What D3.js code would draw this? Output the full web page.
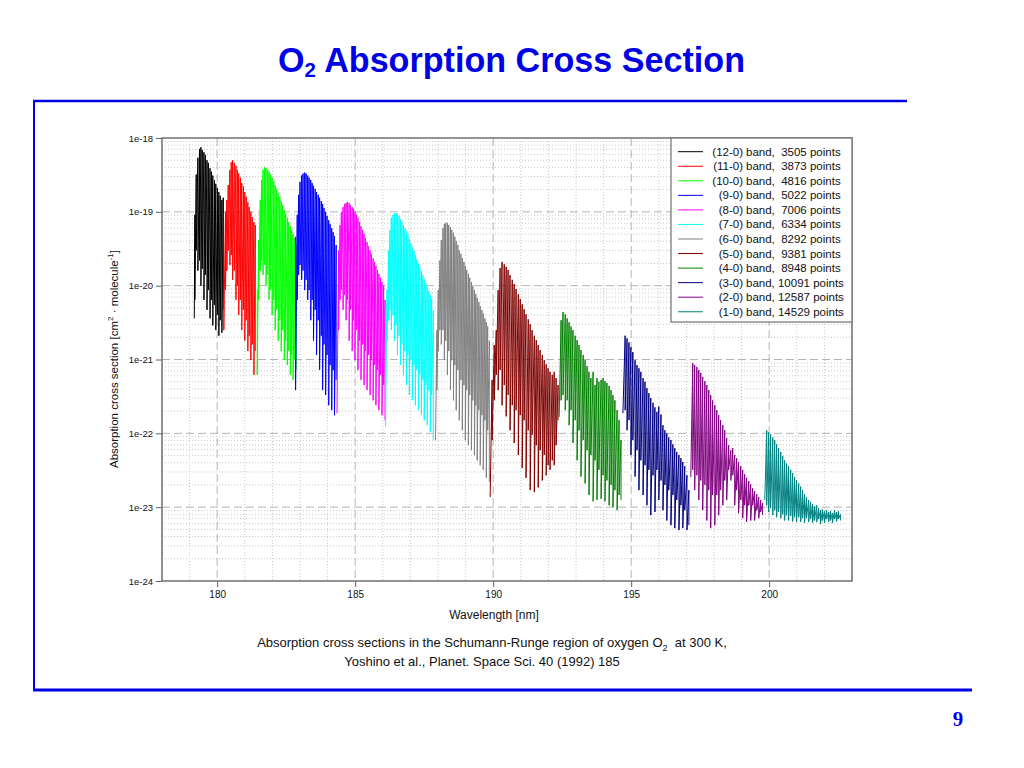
<!DOCTYPE html>
<html>
<head>
<meta charset="utf-8">
<script src="https://cdn.jsdelivr.net/npm/d3@7"></script>
<style>
  body { margin: 0; background: #fff; }
  svg { display: block; font-family: "Liberation Sans", Arial, sans-serif; }
</style>
</head>
<body>
<svg id="slide" width="1024" height="768"></svg>
<script>

// Bands, legend and ticks
const bandLabels = ["(12-0)", "(11-0)", "(10-0)", "(9-0)", "(8-0)", "(7-0)", "(6-0)", "(5-0)", "(4-0)", "(3-0)", "(2-0)", "(1-0)"];
const bandPoints = ["3505", "3873", "4816", "5022", "7006", "6334", "8292", "9381", "8948", "10091", "12587", "14529"];
const xTicks = [180, 185, 190, 195, 200];
const yTicks = [1e-24, 1e-23, 1e-22, 1e-21, 1e-20, 1e-19, 1e-18];

// Each band: line wavelengths (nm), peak and following dip of the cross section (cm2)
const b12w = [179.17, 179.19, 179.24, 179.30, 179.36, 179.41, 179.46, 179.52, 179.57, 179.63, 179.68, 179.74, 179.79, 179.84, 179.90, 179.95, 180.01, 180.06, 180.11, 180.17, 180.22];
const b12hi = [3.6e-21, 9.1e-20, 3.2e-19, 5.4e-19, 7.1e-19, 7.5e-19, 6.9e-19, 6.4e-19, 5.9e-19, 5.0e-19, 4.6e-19, 3.9e-19, 3.5e-19, 3.1e-19, 2.7e-19, 2.4e-19, 2.1e-19, 1.85e-19, 1.65e-19, 1.45e-19, 1.55e-19];
const b12lo = [3.6e-21, 6.4e-21, 3.0e-20, 1.6e-20, 2.2e-20, 1.0e-20, 1.7e-20, 6.4e-21, 1.4e-20, 4.7e-21, 8.7e-21, 3.6e-21, 6.4e-21, 2.9e-21, 5.5e-21, 2.5e-21, 4.0e-21, 2.1e-21, 3.4e-21, 2.3e-21, 4.7e-21];

const b11w = [180.24, 180.30, 180.35, 180.40, 180.46, 180.51, 180.56, 180.62, 180.68, 180.73, 180.78, 180.84, 180.89, 180.95, 181.00, 181.05, 181.11, 181.16, 181.22, 181.27, 181.33, 181.38];
const b11hi = [6.4e-21, 1.0e-19, 1.45e-19, 2.3e-19, 3.7e-19, 4.7e-19, 5.0e-19, 4.6e-19, 4.2e-19, 3.7e-19, 3.3e-19, 2.9e-19, 2.45e-19, 2.2e-19, 1.85e-19, 1.6e-19, 1.35e-19, 1.16e-19, 1.0e-19, 8.5e-20, 7.3e-20, 6.6e-20];
const b11lo = [2.5e-21, 8.7e-21, 1.6e-20, 3.0e-20, 1.9e-20, 2.6e-20, 1.2e-20, 1.6e-20, 6.4e-21, 1.0e-20, 4.0e-21, 6.4e-21, 2.5e-21, 4.7e-21, 1.8e-21, 3.4e-21, 1.3e-21, 2.1e-21, 9.8e-22, 1.6e-21, 6.2e-22, 1.3e-21];

const b10w = [181.45, 181.50, 181.56, 181.61, 181.66, 181.72, 181.77, 181.83, 181.88, 181.93, 181.99, 182.05, 182.10, 182.15, 182.21, 182.27, 182.32, 182.37, 182.43, 182.48, 182.54, 182.59, 182.65, 182.70, 182.75, 182.81, 182.86];
const b10hi = [8.7e-21, 4.15e-20, 1.45e-19, 2.7e-19, 3.7e-19, 4.05e-19, 3.9e-19, 3.7e-19, 3.5e-19, 3.2e-19, 2.9e-19, 2.6e-19, 2.3e-19, 2.05e-19, 1.8e-19, 1.6e-19, 1.4e-19, 1.24e-19, 1.06e-19, 9.4e-20, 8.3e-20, 7.3e-20, 6.4e-20, 5.7e-20, 5.0e-20, 4.4e-20, 3.55e-20];
const b10lo = [6.2e-22, 6.4e-21, 1.6e-20, 2.2e-20, 1.4e-20, 1.9e-20, 1.0e-20, 1.4e-20, 6.4e-21, 8.7e-21, 4.0e-21, 6.4e-21, 2.5e-21, 4.7e-21, 1.8e-21, 3.4e-21, 1.3e-21, 2.5e-21, 9.8e-22, 1.8e-21, 8.4e-22, 1.3e-21, 6.2e-22, 1.15e-21, 5.3e-22, 9.8e-22, 7.2e-22];

const b9w = [182.84, 182.90, 182.95, 183.00, 183.06, 183.11, 183.17, 183.22, 183.28, 183.33, 183.39, 183.44, 183.49, 183.55, 183.60, 183.66, 183.71, 183.77, 183.82, 183.87, 183.93, 183.98, 184.04, 184.09, 184.15, 184.20, 184.25, 184.31];
const b9hi = [4.6e-20, 9.1e-20, 1.7e-19, 2.55e-19, 3.1e-19, 3.3e-19, 3.4e-19, 3.3e-19, 3.1e-19, 2.9e-19, 2.7e-19, 2.45e-19, 2.25e-19, 2.05e-19, 1.85e-19, 1.7e-19, 1.55e-19, 1.4e-19, 1.28e-19, 1.13e-19, 1.0e-19, 8.8e-20, 7.7e-20, 6.8e-20, 6.0e-20, 5.3e-20, 4.7e-20, 3.55e-20];
const b9lo = [3.85e-22, 6.4e-21, 1.4e-20, 1.9e-20, 1.2e-20, 1.6e-20, 8.7e-21, 1.2e-20, 6.4e-21, 8.7e-21, 3.4e-21, 6.4e-21, 1.8e-21, 4.7e-21, 1.15e-21, 3.4e-21, 7.2e-22, 2.1e-21, 3.85e-22, 1.6e-21, 3.3e-22, 1.15e-21, 2.4e-22, 8.4e-22, 2.06e-22, 7.2e-22, 1.76e-22, 5.3e-22];

const b8w = [184.34, 184.40, 184.45, 184.50, 184.56, 184.62, 184.67, 184.72, 184.78, 184.83, 184.89, 184.94, 184.99, 185.05, 185.10, 185.16, 185.21, 185.27, 185.32, 185.37, 185.43, 185.48, 185.54, 185.59, 185.65, 185.70, 185.75, 185.81, 185.86, 185.92, 185.97, 186.03, 186.08];
const b8hi = [1.87e-22, 3.0e-20, 6.6e-20, 1.0e-19, 1.16e-19, 1.28e-19, 1.32e-19, 1.36e-19, 1.32e-19, 1.24e-19, 1.16e-19, 1.1e-19, 1.0e-19, 9.1e-20, 8.3e-20, 7.3e-20, 6.4e-20, 5.7e-20, 5.0e-20, 4.4e-20, 3.9e-20, 3.4e-20, 3.0e-20, 2.7e-20, 2.35e-20, 2.1e-20, 1.85e-20, 1.63e-20, 1.45e-20, 1.28e-20, 1.12e-20, 1.0e-20, 6.4e-21];
const b8lo = [1.87e-22, 2.5e-21, 6.4e-21, 8.7e-21, 4.7e-21, 7.5e-21, 3.4e-21, 6.4e-21, 1.8e-21, 4.7e-21, 1.3e-21, 3.4e-21, 9.8e-22, 2.5e-21, 7.2e-22, 1.8e-21, 5.3e-22, 1.6e-21, 4.5e-22, 1.3e-21, 3.85e-22, 1.15e-21, 3.3e-22, 9.8e-22, 2.8e-22, 8.4e-22, 2.4e-22, 7.2e-22, 2.06e-22, 6.2e-22, 1.76e-22, 4.5e-22, 1.5e-22];

const b7w = [186.10, 186.15, 186.21, 186.26, 186.31, 186.37, 186.42, 186.48, 186.53, 186.59, 186.64, 186.69, 186.75, 186.80, 186.86, 186.91, 186.96, 187.02, 187.07, 187.13, 187.18, 187.23, 187.29, 187.34, 187.40, 187.45, 187.50, 187.56, 187.61, 187.67, 187.72, 187.77, 187.83];
const b7hi = [1.24e-22, 8.7e-21, 3.0e-20, 5.7e-20, 8.3e-20, 9.1e-20, 9.6e-20, 9.6e-20, 9.4e-20, 8.8e-20, 8.0e-20, 7.3e-20, 6.6e-20, 6.0e-20, 5.5e-20, 4.9e-20, 4.3e-20, 3.8e-20, 3.3e-20, 2.95e-20, 2.6e-20, 2.3e-20, 2.0e-20, 1.8e-20, 1.6e-20, 1.39e-20, 1.23e-20, 1.08e-20, 9.6e-21, 8.5e-21, 7.5e-21, 6.6e-21, 4.7e-21];
const b7lo = [1.24e-22, 1.8e-21, 3.4e-21, 4.7e-21, 2.5e-21, 4.0e-21, 1.8e-21, 2.9e-21, 1.15e-21, 2.1e-21, 8.4e-22, 1.6e-21, 6.2e-22, 1.3e-21, 4.5e-22, 1.15e-21, 3.3e-22, 9.8e-22, 2.8e-22, 8.4e-22, 2.4e-22, 7.2e-22, 2.06e-22, 6.2e-22, 1.76e-22, 5.3e-22, 1.5e-22, 4.5e-22, 1.29e-22, 3.85e-22, 1.05e-22, 3.3e-22, 8.1e-23];

const b6w = [187.91, 187.96, 188.01, 188.07, 188.12, 188.18, 188.23, 188.28, 188.34, 188.39, 188.45, 188.50, 188.56, 188.61, 188.66, 188.72, 188.77, 188.83, 188.88, 188.94, 188.99, 189.04, 189.10, 189.15, 189.21, 189.26, 189.32, 189.37, 189.42, 189.48, 189.53, 189.59, 189.64, 189.70, 189.75, 189.80, 189.86];
const b6hi = [8.1e-23, 2.5e-21, 8.7e-21, 2.2e-20, 4.15e-20, 6.0e-20, 6.8e-20, 7.1e-20, 7.1e-20, 6.6e-20, 6.2e-20, 5.7e-20, 5.2e-20, 4.6e-20, 4.0e-20, 3.55e-20, 3.0e-20, 2.7e-20, 2.35e-20, 2.1e-20, 1.85e-20, 1.63e-20, 1.45e-20, 1.28e-20, 1.12e-20, 1.0e-20, 8.7e-21, 7.7e-21, 6.8e-21, 6.0e-21, 5.3e-21, 4.7e-21, 4.2e-21, 3.6e-21, 3.2e-21, 2.8e-21, 1.8e-21];
const b6lo = [8.1e-23, 3.85e-22, 1.3e-21, 2.5e-21, 1.6e-21, 2.5e-21, 9.8e-22, 1.8e-21, 6.2e-22, 1.3e-21, 3.85e-22, 9.8e-22, 2.8e-22, 8.4e-22, 2.06e-22, 7.2e-22, 1.5e-22, 5.3e-22, 1.1e-22, 4.5e-22, 8.1e-23, 3.85e-22, 6.9e-23, 3.3e-22, 5.9e-23, 2.8e-22, 5.1e-23, 2.4e-22, 4.3e-23, 2.06e-22, 3.7e-23, 1.76e-22, 3.2e-23, 1.5e-22, 2.5e-23, 1.1e-22, 2.2e-23];

const b5w = [189.89, 189.96, 190.04, 190.11, 190.18, 190.25, 190.32, 190.40, 190.47, 190.54, 190.61, 190.69, 190.76, 190.83, 190.91, 190.98, 191.05, 191.12, 191.19, 191.27, 191.34, 191.41, 191.49, 191.56, 191.63, 191.70, 191.78, 191.85, 191.92, 191.99, 192.06, 192.14, 192.21, 192.28, 192.35];
const b5hi = [1.37e-23, 5.3e-22, 1.57e-21, 2.5e-21, 8.7e-21, 1.73e-20, 2.1e-20, 1.95e-20, 1.8e-20, 1.63e-20, 1.39e-20, 1.2e-20, 1.05e-20, 9.0e-21, 7.7e-21, 6.6e-21, 5.6e-21, 4.8e-21, 4.1e-21, 3.5e-21, 3.0e-21, 2.5e-21, 2.1e-21, 1.83e-21, 1.57e-21, 1.34e-21, 1.15e-21, 9.8e-22, 8.6e-22, 7.6e-22, 6.8e-22, 6.2e-22, 6.8e-22, 5.6e-22, 4.5e-22];
const b5lo = [1.37e-23, 8.1e-23, 2.8e-22, 6.2e-22, 3.85e-22, 7.2e-22, 2.4e-22, 4.5e-22, 1.7e-22, 3.3e-22, 1.1e-22, 2.4e-22, 7.4e-23, 2.06e-22, 5.1e-23, 1.76e-22, 3.4e-23, 1.5e-22, 2.5e-23, 1.1e-22, 1.7e-23, 9.5e-23, 1.6e-23, 6.9e-23, 1.85e-23, 5.9e-23, 2.3e-23, 5.1e-23, 2.7e-23, 3.7e-23, 3.2e-23, 4.3e-23, 3.7e-23, 6.9e-23, 1.5e-22];

const b4w = [192.39, 192.46, 192.53, 192.61, 192.68, 192.75, 192.82, 192.89, 192.97, 193.04, 193.11, 193.18, 193.26, 193.33, 193.40, 193.47, 193.54, 193.62, 193.69, 193.76, 193.83, 193.91, 193.98, 194.05, 194.12, 194.20, 194.27, 194.34, 194.41, 194.49, 194.56, 194.63];
const b4hi = [1.67e-22, 3.4e-21, 4.4e-21, 4.1e-21, 3.6e-21, 3.2e-21, 2.8e-21, 2.5e-21, 2.1e-21, 1.83e-21, 1.57e-21, 1.34e-21, 1.15e-21, 9.8e-22, 8.1e-22, 6.8e-22, 5.6e-22, 6.8e-22, 4.5e-22, 5.6e-22, 5.0e-22, 5.3e-22, 5.6e-22, 5.1e-22, 4.8e-22, 4.4e-22, 3.85e-22, 3.3e-22, 2.8e-22, 2.06e-22, 1.51e-22, 8.1e-23];
const b4lo = [1.67e-22, 2.8e-22, 3.3e-22, 2.06e-22, 2.8e-22, 1.29e-22, 2.06e-22, 7.4e-23, 1.51e-22, 4.3e-23, 1.1e-22, 2.6e-23, 8.1e-23, 2.1e-23, 5.9e-23, 1.46e-23, 5.1e-23, 1.2e-23, 4.3e-23, 1.25e-23, 3.2e-23, 1.3e-23, 2.7e-23, 1.2e-23, 2.3e-23, 1.06e-23, 2.0e-23, 1.0e-23, 1.7e-23, 9.1e-24, 1.46e-23, 1.25e-23];

const b3w = [194.70, 194.78, 194.85, 194.92, 194.99, 195.06, 195.14, 195.21, 195.28, 195.35, 195.43, 195.50, 195.57, 195.64, 195.71, 195.79, 195.86, 195.93, 196.00, 196.08, 196.15, 196.22, 196.29, 196.36, 196.44, 196.51, 196.58, 196.65, 196.73, 196.80, 196.87, 196.94, 197.02, 197.09];
const b3hi = [1.87e-22, 2.1e-21, 1.93e-21, 1.7e-21, 1.47e-21, 1.26e-21, 9.8e-22, 8.4e-22, 7.6e-22, 6.8e-22, 5.6e-22, 5.0e-22, 4.1e-22, 3.5e-22, 3.0e-22, 2.6e-22, 2.25e-22, 1.95e-22, 2.3e-22, 1.8e-22, 1.29e-22, 1.1e-22, 1.0e-22, 8.8e-23, 8.1e-23, 7.1e-23, 6.3e-23, 5.6e-23, 5.1e-23, 4.6e-23, 4.1e-23, 3.6e-23, 2.7e-23, 1.7e-23];
const b3lo = [1.87e-22, 2.06e-22, 1.1e-22, 1.51e-22, 5.1e-23, 8.1e-23, 2.6e-23, 5.9e-23, 1.7e-23, 4.3e-23, 1.46e-23, 3.7e-23, 1.06e-23, 3.2e-23, 7.8e-24, 2.7e-23, 8.6e-24, 3.2e-23, 1.25e-23, 2.3e-23, 9.1e-24, 2.0e-23, 6.6e-24, 1.7e-23, 5.7e-24, 1.46e-23, 5.2e-24, 1.25e-23, 4.9e-24, 1.06e-23, 5.2e-24, 9.1e-24, 4.9e-24, 5.7e-24];

const b2w = [197.16, 197.23, 197.30, 197.38, 197.45, 197.52, 197.59, 197.67, 197.74, 197.81, 197.88, 197.95, 198.03, 198.10, 198.17, 198.24, 198.32, 198.39, 198.46, 198.53, 198.61, 198.68, 198.75, 198.82, 198.89, 198.97, 199.04, 199.11, 199.18, 199.26, 199.33, 199.40, 199.47, 199.55, 199.62, 199.69, 199.76];
const b2hi = [2.55e-23, 8.9e-22, 8.4e-22, 7.9e-22, 7.2e-22, 6.6e-22, 5.8e-22, 5.1e-22, 4.5e-22, 3.85e-22, 3.3e-22, 2.8e-22, 2.4e-22, 2.06e-22, 1.76e-22, 1.51e-22, 1.29e-22, 1.1e-22, 8.6e-23, 6.9e-23, 5.9e-23, 6.3e-23, 5.1e-23, 4.6e-23, 4.1e-23, 3.6e-23, 3.2e-23, 2.8e-23, 2.5e-23, 2.25e-23, 2.05e-23, 1.8e-23, 1.65e-23, 1.5e-23, 1.37e-23, 1.25e-23, 1.14e-23];
const b2lo = [2.55e-23, 3.2e-23, 1.7e-23, 2.7e-23, 1.25e-23, 2.3e-23, 9.1e-24, 2.0e-23, 6.6e-24, 1.7e-23, 5.2e-24, 1.46e-23, 5.7e-24, 1.46e-23, 7.8e-24, 1.7e-23, 1.06e-23, 2.3e-23, 1.25e-23, 3.2e-23, 2.3e-23, 2.7e-23, 1.06e-23, 1.7e-23, 8.3e-24, 1.25e-23, 7.1e-24, 1.06e-23, 6.3e-24, 1.06e-23, 6.6e-24, 1.06e-23, 6.6e-24, 9.1e-24, 7.1e-24, 8.6e-24, 7.8e-24];

const b1w = [199.84, 199.91, 199.98, 200.05, 200.13, 200.20, 200.27, 200.34, 200.42, 200.49, 200.56, 200.63, 200.70, 200.78, 200.85, 200.92, 200.99, 201.07, 201.14, 201.21, 201.28, 201.35, 201.43, 201.50, 201.57, 201.64, 201.72, 201.79, 201.86, 201.93, 202.00, 202.08, 202.15, 202.22, 202.29, 202.37, 202.44, 202.51, 202.58];
const b1hi = [1.25e-23, 1.1e-22, 1.03e-22, 9.7e-23, 8.8e-23, 8.1e-23, 7.1e-23, 6.3e-23, 5.6e-23, 4.9e-23, 4.3e-23, 3.9e-23, 3.6e-23, 3.2e-23, 2.9e-23, 2.55e-23, 2.3e-23, 2.1e-23, 1.9e-23, 1.7e-23, 1.5e-23, 1.37e-23, 1.25e-23, 1.18e-23, 1.1e-23, 1.03e-23, 1.06e-23, 9.7e-24, 9.1e-24, 9.4e-24, 8.8e-24, 9.1e-24, 8.6e-24, 8.8e-24, 8.3e-24, 9.1e-24, 8.6e-24, 8.8e-24, 8.0e-24];
const b1lo = [1.25e-23, 1.06e-23, 8.6e-24, 9.7e-24, 7.8e-24, 9.1e-24, 7.3e-24, 8.6e-24, 7.1e-24, 8.0e-24, 6.6e-24, 7.8e-24, 6.6e-24, 7.6e-24, 6.4e-24, 7.3e-24, 6.3e-24, 7.3e-24, 6.3e-24, 7.1e-24, 6.1e-24, 7.1e-24, 6.3e-24, 6.9e-24, 6.1e-24, 6.6e-24, 6.3e-24, 6.9e-24, 5.9e-24, 6.6e-24, 6.1e-24, 6.9e-24, 6.3e-24, 6.6e-24, 6.1e-24, 6.9e-24, 6.4e-24, 6.9e-24, 6.6e-24];

const bandWl = [b12w, b11w, b10w, b9w, b8w, b7w, b6w, b5w, b4w, b3w, b2w, b1w];
const bandHi = [b12hi, b11hi, b10hi, b9hi, b8hi, b7hi, b6hi, b5hi, b4hi, b3hi, b2hi, b1hi];
const bandLo = [b12lo, b11lo, b10lo, b9lo, b8lo, b7lo, b6lo, b5lo, b4lo, b3lo, b2lo, b1lo];

const bandColors = ["#000000", "#ff0000", "#00ff00", "#0000ff", "#ff00ff", "#00ffff",
  "#808080", "#800000", "#008000", "#000080", "#800080", "#008080"];
const slideBlue = "#0000e6";

const plot = { left: 162, right: 852, top: 138, bottom: 581 };

const svg = d3.select("#slide");

const xScale = d3.scaleLinear()
  .domain([178, 203])
  .range([plot.left, plot.right]);

const yScale = d3.scaleLog()
  .domain([1e-24, 1e-18])
  .range([plot.bottom, plot.top]);

// Slide frame
svg.append("line")
  .attr("x1", 33).attr("x2", 907)
  .attr("y1", 101).attr("y2", 101)
  .attr("stroke", slideBlue)
  .attr("stroke-width", 2.5);
svg.append("line")
  .attr("x1", 34).attr("x2", 34)
  .attr("y1", 100).attr("y2", 691)
  .attr("stroke", slideBlue)
  .attr("stroke-width", 2);
svg.append("line")
  .attr("x1", 33).attr("x2", 972)
  .attr("y1", 690).attr("y2", 690)
  .attr("stroke", slideBlue)
  .attr("stroke-width", 3);

const title = svg.append("text")
  .attr("x", 278)
  .attr("y", 72)
  .attr("textLength", 467)
  .attr("lengthAdjust", "spacingAndGlyphs")
  .attr("fill", slideBlue)
  .attr("font-size", 35)
  .attr("font-weight", "bold");
title.append("tspan").text("O");
title.append("tspan")
  .attr("font-size", 21)
  .attr("dy", 5)
  .text("2");
title.append("tspan")
  .attr("dy", -5)
  .text(" Absorption Cross Section");

svg.append("text")
  .attr("x", 958)
  .attr("y", 726)
  .attr("text-anchor", "middle")
  .attr("fill", slideBlue)
  .attr("font-family", "'Liberation Serif', 'Times New Roman', serif")
  .attr("font-weight", "bold")
  .attr("font-size", 21)
  .text("9");

// Grid
const chart = svg.append("g");

const minorX = d3.range(178, 204).filter(v => !xTicks.includes(v));
const minorY = d3.range(-24, -18).flatMap(e => d3.range(2, 10).map(k => k * Math.pow(10, e)));

chart.append("g")
  .selectAll("line")
  .data(minorX)
  .join("line")
    .attr("x1", d => xScale(d)).attr("x2", d => xScale(d))
    .attr("y1", plot.top).attr("y2", plot.bottom)
    .attr("stroke", "#c8c8c8")
    .attr("stroke-dasharray", "1,2");

chart.append("g")
  .selectAll("line")
  .data(minorY)
  .join("line")
    .attr("x1", plot.left).attr("x2", plot.right)
    .attr("y1", d => yScale(d)).attr("y2", d => yScale(d))
    .attr("stroke", "#c8c8c8")
    .attr("stroke-dasharray", "1,2");

chart.append("g")
  .selectAll("line")
  .data(xTicks)
  .join("line")
    .attr("x1", d => xScale(d)).attr("x2", d => xScale(d))
    .attr("y1", plot.top).attr("y2", plot.bottom)
    .attr("stroke", "#b4b4b4")
    .attr("stroke-dasharray", "8,4");

chart.append("g")
  .selectAll("line")
  .data(yTicks.slice(1, -1))
  .join("line")
    .attr("x1", plot.left).attr("x2", plot.right)
    .attr("y1", d => yScale(d)).attr("y2", d => yScale(d))
    .attr("stroke", "#b4b4b4")
    .attr("stroke-dasharray", "8,4");

// Spectra
svg.append("clipPath")
  .attr("id", "plot-clip")
  .append("rect")
    .attr("x", plot.left).attr("y", plot.top)
    .attr("width", plot.right - plot.left)
    .attr("height", plot.bottom - plot.top);

const bands = bandLabels.map((label, i) => ({
  label,
  points: bandPoints[i],
  color: bandColors[i],
  values: d3.zip(bandWl[i], bandHi[i], bandLo[i])
}));

const spectrumLine = d3.line()
  .x(d => xScale(d[0]))
  .y(d => yScale(d[1]));

chart.append("g")
  .attr("clip-path", "url(#plot-clip)")
  .selectAll("path")
  .data(bands)
  .join("path")
    .attr("d", d => spectrumLine(d.values.flatMap(([w, hi, lo]) => [[w, hi], [w, lo]])))
    .attr("fill", "none")
    .attr("stroke", d => d.color)
    .attr("stroke-width", 1);

// Axes
const xAxis = chart.append("g")
  .attr("transform", `translate(0, ${plot.bottom})`)
  .call(d3.axisBottom(xScale).tickValues(xTicks).tickSize(6).tickPadding(4));

const yAxis = chart.append("g")
  .attr("transform", `translate(${plot.left}, 0)`)
  .call(d3.axisLeft(yScale)
    .tickValues(yTicks)
    .tickFormat(d => `1e${Math.round(Math.log10(d))}`)
    .tickSize(6)
    .tickPadding(3));

[xAxis, yAxis].forEach(axis => {
  axis.select(".domain").remove();
  axis.selectAll(".tick line").attr("stroke", "#606060");
  axis.selectAll(".tick text")
    .attr("fill", "#111")
    .attr("font-family", "'Liberation Sans', Arial, sans-serif");
});
xAxis.selectAll(".tick text").attr("font-size", 10);
yAxis.selectAll(".tick text").attr("font-size", 9.5);

chart.append("rect")
  .attr("x", plot.left).attr("y", plot.top)
  .attr("width", plot.right - plot.left)
  .attr("height", plot.bottom - plot.top)
  .attr("fill", "none")
  .attr("stroke", "#707070")
  .attr("stroke-width", 1.5);

chart.append("text")
  .attr("x", 494)
  .attr("y", 619)
  .attr("text-anchor", "middle")
  .attr("font-size", 12)
  .attr("fill", "#111")
  .text("Wavelength [nm]");

const yTitle = chart.append("text")
  .attr("transform", "translate(118, 359) rotate(-90)")
  .attr("text-anchor", "middle")
  .attr("font-size", 11.5)
  .attr("fill", "#111");
yTitle.append("tspan").text("Absorption cross section [cm");
yTitle.append("tspan").attr("font-size", 8).attr("dy", -5).text("2");
yTitle.append("tspan").attr("dy", 5).text(" \u00b7 molecule");
yTitle.append("tspan").attr("font-size", 8).attr("dy", -5).text("-1");
yTitle.append("tspan").attr("dy", 5).text("]");

// Legend
const legend = chart.append("g");
legend.append("rect")
  .attr("x", 671).attr("y", plot.top)
  .attr("width", plot.right - 671)
  .attr("height", 184)
  .attr("fill", "#fff")
  .attr("stroke", "#707070")
  .attr("stroke-width", 1.2);

const rows = legend.selectAll(".legend-row")
  .data(bands)
  .join("g")
    .attr("class", "legend-row")
    .attr("transform", (d, i) => `translate(0, ${151.7 + i * 14.55})`);

rows.append("line")
  .attr("x1", 678).attr("x2", 703)
  .attr("stroke", d => d.color)
  .attr("stroke-width", 1);

rows.append("text")
  .attr("x", 743)
  .attr("dy", "0.35em")
  .attr("text-anchor", "end")
  .attr("font-size", 11.5)
  .attr("fill", "#111")
  .text(d => d.label);

rows.append("text")
  .attr("x", 746)
  .attr("dy", "0.35em")
  .attr("font-size", 11.5)
  .attr("fill", "#111")
  .style("white-space", "pre")
  .text(d => d.points.length < 5 ? `band,  ${d.points} points` : `band, ${d.points} points`);

// Caption
const caption = svg.append("g")
  .attr("font-size", 13)
  .attr("fill", "#111")
  .attr("text-anchor", "middle");
const capLine = caption.append("text")
  .attr("x", 492)
  .attr("y", 647);
capLine.append("tspan").text("Absorption cross sections in the Schumann-Runge region of oxygen O");
capLine.append("tspan").attr("font-size", 9).attr("dy", 4).text("2");
capLine.append("tspan").attr("dy", -4).style("white-space", "pre").text("  at 300 K,");
caption.append("text")
  .attr("x", 482)
  .attr("y", 666)
  .text("Yoshino et al., Planet. Space Sci. 40 (1992) 185");

</script>
</body>
</html>
